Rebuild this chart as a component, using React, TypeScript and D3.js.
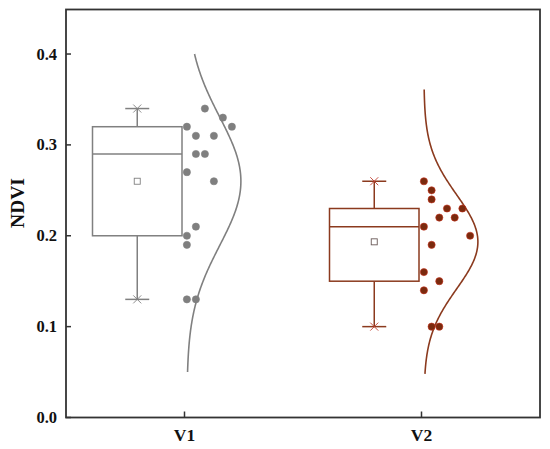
import React from "react";
import * as d3 from "d3";

const categories = ["V1", "V2"];
const v1Values = [0.34, 0.33, 0.32, 0.32, 0.31, 0.31, 0.29, 0.29, 0.27, 0.26, 0.21, 0.2, 0.19, 0.13, 0.13];
const v1Jitter = [2, 4, 5, 0, 1, 3, 1, 2, 0, 3, 1, 0, 0, 0, 1];
const v2Values = [0.26, 0.25, 0.24, 0.23, 0.23, 0.22, 0.22, 0.21, 0.2, 0.19, 0.16, 0.15, 0.14, 0.1, 0.1];
const v2Jitter = [0, 1, 1, 3, 5, 2, 4, 0, 6, 1, 0, 2, 0, 1, 2];
const q1s = [0.2, 0.15];
const medians = [0.29, 0.21];
const q3s = [0.32, 0.23];
const whiskerLows = [0.13, 0.1];
const whiskerHighs = [0.34, 0.26];
const curveLows = [0.05, 0.048];
const curveHighs = [0.4, 0.361];
const yTicks = [0, 0.1, 0.2, 0.3, 0.4];

const W = 550;
const H = 449;
const L = 66;
const R = 540;
const T = 9.5;
const B = 417.5;

const lineColors = ["#808080", "#8b3a1e"];
const dotFills = ["#7f7f7f", "#7a2a0e"];
const dotStrokes = ["#7f7f7f", "#c8301c"];
const capMarkColors = ["#808080", "#c04030"];
const meanColors = ["#808080", "#6a5a58"];
const jitterStep = [9, 7.7];

export default function App() {
  const x = d3.scaleLinear().domain([0.5, 2.5]).range([L, R]);
  const y = d3.scaleLinear().domain([0, 0.449]).range([B, T]);
  const groups = [
    { values: v1Values, jitter: v1Jitter },
    { values: v2Values, jitter: v2Jitter },
  ];
  const font = "'Liberation Serif', 'Times New Roman', serif";

  return (
    <svg width={W} height={H} style={{ position: "absolute", left: 0, top: 0, background: "#fff" }}>
      <rect x={0} y={0} width={W} height={H} fill="#fff" />
      {categories.map((cat, i) => {
        const cx = x(i + 1);
        const g = groups[i];
        const color = lineColors[i];
        const boxL = cx - 92;
        const boxR = cx - 2.5;
        const boxC = (boxL + boxR) / 2;
        const mean = d3.mean(g.values) as number;
        const sd = d3.deviation(g.values) as number;
        const base = cx + 2.4;
        const amp = 54;
        const ys = d3.range(0, 201).map((k) => curveLows[i] + ((curveHighs[i] - curveLows[i]) * k) / 200);
        const line = d3
          .line<number>()
          .x((v) => base + amp * Math.exp(-((v - mean) ** 2) / (2 * sd * sd)))
          .y((v) => y(v))
          .curve(d3.curveBasis);
        const capHalf = 12;
        const xm = 4;
        return (
          <g key={cat}>
            <path d={line(ys) || ""} fill="none" stroke={color} strokeWidth={1.6} />
            <line x1={boxC} x2={boxC} y1={y(q3s[i])} y2={y(whiskerHighs[i])} stroke={color} strokeWidth={1.5} />
            <line x1={boxC} x2={boxC} y1={y(q1s[i])} y2={y(whiskerLows[i])} stroke={color} strokeWidth={1.5} />
            {[whiskerHighs[i], whiskerLows[i]].map((w, k) => (
              <g key={k}>
                <line x1={boxC - capHalf} x2={boxC + capHalf} y1={y(w)} y2={y(w)} stroke={color} strokeWidth={1.5} />
                <line x1={boxC - xm} x2={boxC + xm} y1={y(w) - xm} y2={y(w) + xm} stroke={capMarkColors[i]} strokeWidth={0.9} />
                <line x1={boxC - xm} x2={boxC + xm} y1={y(w) + xm} y2={y(w) - xm} stroke={capMarkColors[i]} strokeWidth={0.9} />
              </g>
            ))}
            <rect
              x={boxL}
              y={y(q3s[i])}
              width={boxR - boxL}
              height={y(q1s[i]) - y(q3s[i])}
              fill="#fff"
              stroke={color}
              strokeWidth={1.5}
            />
            <line x1={boxL} x2={boxR} y1={y(medians[i])} y2={y(medians[i])} stroke={color} strokeWidth={1.5} />
            <rect x={boxC - 3} y={y(mean) - 3} width={6} height={6} fill="#fff" stroke={meanColors[i]} strokeWidth={0.9} />
            {g.values.map((v, k) => (
              <circle
                key={k}
                cx={base + g.jitter[k] * jitterStep[i]}
                cy={y(v)}
                r={3.6}
                fill={dotFills[i]}
                stroke={dotStrokes[i]}
                strokeWidth={0.6}
              />
            ))}
          </g>
        );
      })}
      <rect x={L} y={T} width={R - L} height={B - T} fill="none" stroke="#333" strokeWidth={1.8} />
      {yTicks.map((t) => (
        <g key={t}>
          <line x1={L} x2={L + 5} y1={y(t)} y2={y(t)} stroke="#333" strokeWidth={1.5} />
          <text
            x={57}
            y={y(t)}
            textAnchor="end"
            dominantBaseline="central"
            fontFamily={font}
            fontWeight="bold"
            fontSize={16.5}
            fill="#111"
          >
            {t.toFixed(1)}
          </text>
        </g>
      ))}
      {categories.map((cat, i) => (
        <g key={cat}>
          <line x1={x(i + 1)} x2={x(i + 1)} y1={B} y2={B - 6} stroke="#333" strokeWidth={1.5} />
          <text
            x={x(i + 1)}
            y={441}
            textAnchor="middle"
            fontFamily={font}
            fontWeight="bold"
            fontSize={17.5}
            fill="#111"
          >
            {cat}
          </text>
        </g>
      ))}
      <text
        transform={`translate(24, 203) rotate(-90)`}
        textAnchor="middle"
        fontFamily={font}
        fontWeight="bold"
        fontSize={19.5}
        fill="#111"
      >
        NDVI
      </text>
    </svg>
  );
}
